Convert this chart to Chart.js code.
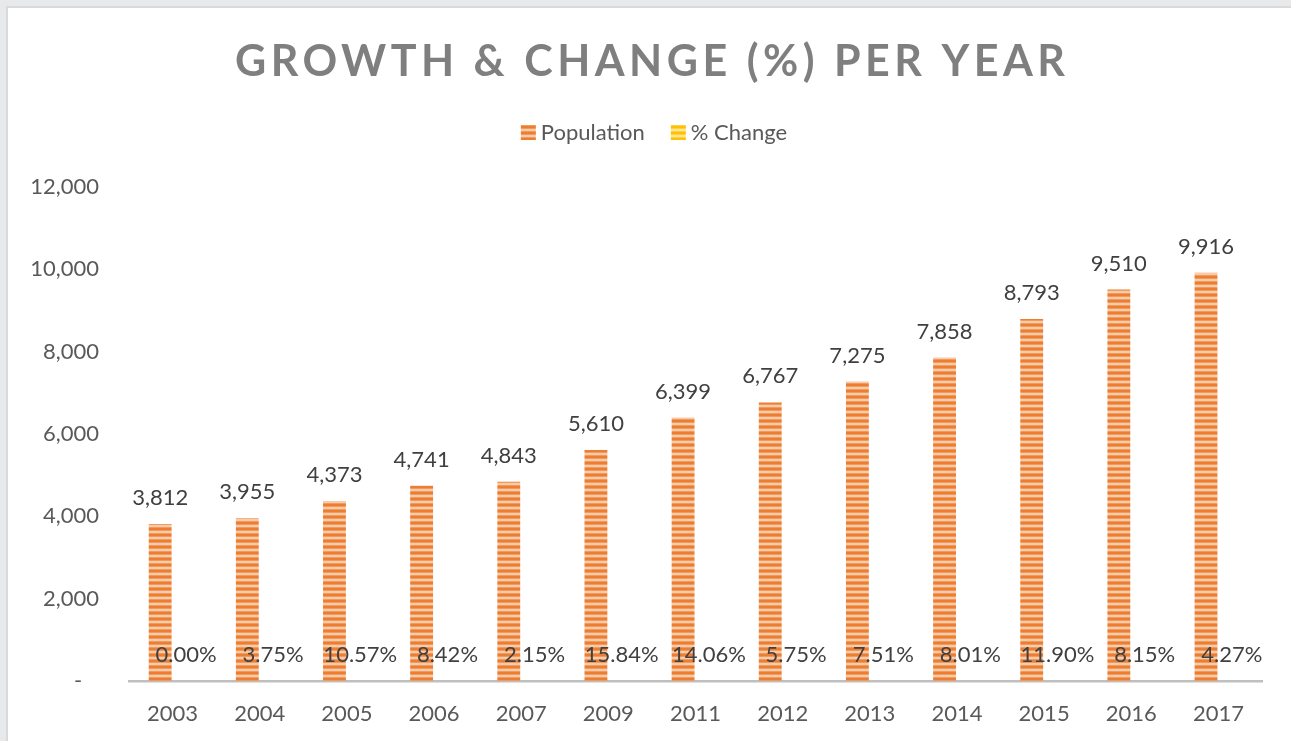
<!DOCTYPE html>
<html>
<head>
<meta charset="utf-8">
<script src="https://cdn.jsdelivr.net/npm/chart.js@4.4.1/dist/chart.umd.min.js"></script>
<style>
  html, body { margin: 0; padding: 0; background: #e8e9eb; }
  #wrap { position: absolute; left: 0; top: 0; width: 1291px; height: 741px; }
</style>
</head>
<body>
<div id="wrap"><canvas id="c" width="1291" height="741"></canvas></div>
<script>
const years = ['2003','2004','2005','2006','2007','2009','2011','2012','2013','2014','2015','2016','2017'];
const population = [3812, 3955, 4373, 4741, 4843, 5610, 6399, 6767, 7275, 7858, 8793, 9510, 9916];
const pctChange = [0.00, 3.75, 10.57, 8.42, 2.15, 15.84, 14.06, 5.75, 7.51, 8.01, 11.90, 8.15, 4.27];
const yTicks = [0, 2000, 4000, 6000, 8000, 10000, 12000];
const titleText = 'GROWTH & CHANGE (%) PER YEAR';
const seriesNames = ['Population', '% Change'];

const FONT = 'Lato, "Open Sans", sans-serif';

function stripePattern(dark, mid, light) {
  const pc = document.createElement('canvas');
  pc.width = 4; pc.height = 6;
  const p = pc.getContext('2d');
  const rows = [dark, dark, mid, light, light, mid];
  rows.forEach((col, i) => { p.fillStyle = col; p.fillRect(0, i, 4, 1); });
  return document.getElementById('c').getContext('2d').createPattern(pc, 'repeat');
}
const orangePat = stripePattern('#ED7D31', '#F19A5E', '#F8CBAA');
const goldPat = stripePattern('#FFC000', '#FFD040', '#FFE699');

const framePlugin = {
  id: 'frame',
  beforeDraw(chart) {
    const ctx = chart.ctx;
    ctx.save();
    ctx.fillStyle = '#e8e9eb';
    ctx.fillRect(0, 0, chart.width, chart.height);
    ctx.fillStyle = '#d9d9d9';
    ctx.fillRect(6, 6, chart.width, chart.height);
    ctx.fillStyle = '#ffffff';
    ctx.fillRect(8, 8, chart.width, chart.height);
    ctx.restore();
  }
};

const headerPlugin = {
  id: 'header',
  afterDraw(chart) {
    const ctx = chart.ctx;
    const cx = 650;
    ctx.save();
    // title
    ctx.font = 'bold 43px ' + FONT;
    ctx.fillStyle = '#7f7f7f';
    ctx.textBaseline = 'alphabetic';
    ctx.textAlign = 'left';
    const ls = 4.5;
    ctx.letterSpacing = ls + 'px';
    const tw = ctx.measureText(titleText).width - ls;
    ctx.fillText(titleText, cx - tw / 2, 76);
    ctx.letterSpacing = '0px';
    // legend
    ctx.font = '22px ' + FONT;
    const box = 15, gapBT = 5, gapItems = 26;
    const w0 = ctx.measureText(seriesNames[0]).width;
    const w1 = ctx.measureText(seriesNames[1]).width;
    const total = box + gapBT + w0 + gapItems + box + gapBT + w1;
    let x = cx - total / 2 + 4;
    const pats = [orangePat, goldPat];
    [w0, w1].forEach((w, i) => {
      ctx.fillStyle = pats[i];
      ctx.fillRect(x, 125, box, box);
      x += box + gapBT;
      ctx.fillStyle = '#595959';
      ctx.fillText(seriesNames[i], x, 140);
      x += w + gapItems;
    });
    ctx.restore();
  }
};

const labelPlugin = {
  id: 'barLabels',
  afterDatasetsDraw(chart) {
    const ctx = chart.ctx;
    ctx.save();
    ctx.font = '22px ' + FONT;
    ctx.fillStyle = '#404040';
    ctx.textAlign = 'center';
    ctx.textBaseline = 'alphabetic';
    chart.data.datasets.forEach((ds, di) => {
      const meta = chart.getDatasetMeta(di);
      meta.data.forEach((el, i) => {
        const txt = di === 0
          ? population[i].toLocaleString('en-US')
          : pctChange[i].toFixed(2) + '%';
        ctx.fillText(txt, el.x + (di === 1 ? 1 : 0), el.y - 19);
      });
    });
    ctx.restore();
  }
};

new Chart(document.getElementById('c'), {
  type: 'bar',
  data: {
    labels: years,
    datasets: [
      { label: seriesNames[0], data: population, backgroundColor: orangePat, borderWidth: 0,
        categoryPercentage: 0.57, barPercentage: 0.92 },
      { label: seriesNames[1], data: pctChange.map(v => v / 100), backgroundColor: goldPat, borderWidth: 0,
        categoryPercentage: 0.57, barPercentage: 0.92 }
    ]
  },
  options: {
    responsive: false,
    animation: false,
    events: [],
    layout: { padding: { top: 187, right: 29, bottom: 0, left: 0 } },
    plugins: {
      legend: { display: false },
      title: { display: false },
      tooltip: { enabled: false }
    },
    scales: {
      x: {
        grid: { display: false, drawTicks: false },
        border: { display: true, color: '#bfbfbf', width: 2.5 },
        ticks: { color: '#595959', font: { family: FONT, size: 22 }, padding: 20 },
        afterFit(s) { s.height = 60; }
      },
      y: {
        min: 0, max: 12000,
        afterBuildTicks(s) { s.ticks = yTicks.map(v => ({ value: v })); },
        grid: { display: false, drawTicks: false },
        border: { display: false },
        ticks: {
          color: '#595959', font: { family: FONT, size: 22 }, padding: 30,
          callback: v => v === 0 ? '-   ' : v.toLocaleString('en-US')
        },
        afterFit(s) { s.width = 129; }
      }
    }
  },
  plugins: [framePlugin, headerPlugin, labelPlugin]
});
</script>
</body>
</html>
